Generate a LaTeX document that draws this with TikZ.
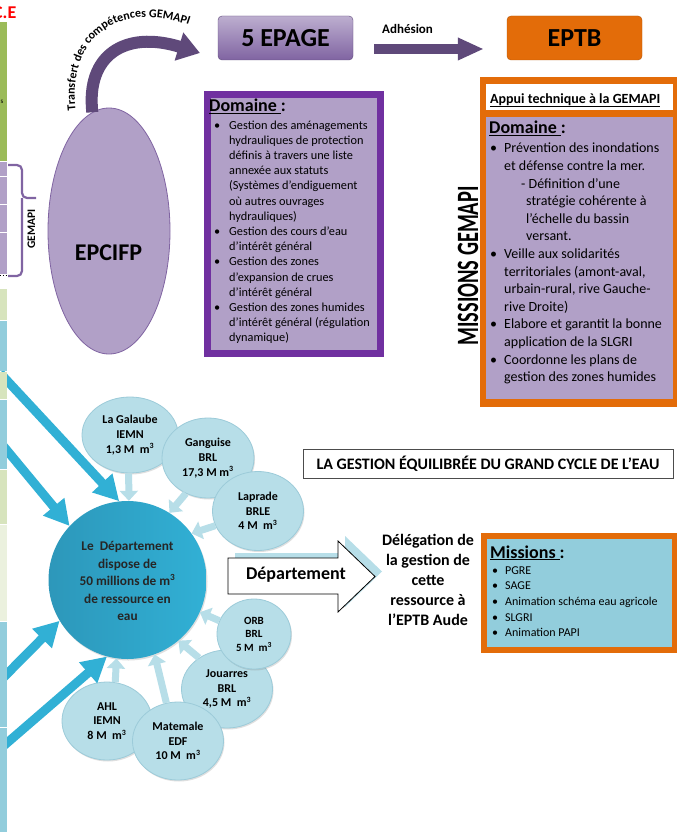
\documentclass[tikz,border=0pt]{standalone}
\usepackage{fontspec}
\setmainfont{Carlito}
\usetikzlibrary{arrows.meta,shapes.geometric,decorations.text,shadows,calc}

\definecolor{lilac}{HTML}{B1A0C7}
\definecolor{violetline}{HTML}{7030A0}
\definecolor{plum}{HTML}{5F497A}
\definecolor{plumedge}{HTML}{8064A2}
\definecolor{orangeB}{HTML}{E36C09}
\definecolor{skyfill}{HTML}{B7DEE8}
\definecolor{skyedge}{HTML}{9CCBD9}
\definecolor{tealmain}{HTML}{31B0D5}
\definecolor{tealdark}{HTML}{2B8FB1}
\definecolor{tabgreen}{HTML}{9BBB59}
\definecolor{tablight}{HTML}{D7E4BD}
\definecolor{tabpale}{HTML}{EBF1DE}
\definecolor{tabblue}{HTML}{92CDDC}

\newcommand{\fsz}[2]{\fontsize{#1}{#2}\selectfont}
\newcommand{\bulA}{\makebox[15pt][l]{\textbullet}}
\newcommand{\indA}{\hspace*{15pt}}
\newcommand{\bulB}{\makebox[14pt][l]{\textbullet}}
\newcommand{\indB}{\hspace*{14pt}}
\newcommand{\bulC}{\makebox[13pt][l]{\textbullet}}

\begin{document}
\begin{tikzpicture}[x=1pt,y=-1pt,
  smallc/.style={ellipse, fill=skyfill, draw=skyedge, line width=0.8pt, inner sep=0pt,
    align=center, font=\bfseries\fsz{12}{14.7},
    drop shadow={opacity=0.25, shadow xshift=1pt, shadow yshift=-1.5pt}},
  bigarrow/.style={tealmain, line width=9pt, -{Triangle[length=25pt,width=26pt]}},
  smallarrow/.style={skyfill, line width=7pt, -{Triangle[length=10pt,width=18pt]}},
  adharrow/.style={plum, line width=10pt, -{Triangle[length=26pt,width=21pt]}},
  band/.style={plum, line width=12pt, -{Triangle[length=22pt,width=28pt]}},
  bracepath/.style={plumedge, line width=2.2pt, rounded corners=5pt},
  topbox/.style={rounded corners=4pt, minimum width=135pt, minimum height=44pt,
    inner sep=0pt, font=\bfseries\fsz{26}{26}},
  plain/.style={inner sep=0pt, anchor=base west}]

\useasboundingbox (0,0) rectangle (677,832);
\fill[white] (0,0) rectangle (677,832);

% ---------- large teal arrows feeding the reservoir ----------
\coordinate (src1) at (0,373);
\coordinate (src2) at (0,442);
\coordinate (src3) at (0,681);
\coordinate (src4) at (0,749);

% ---------- reservoir and sources ----------
\node[circle, minimum size=158pt, inner sep=0pt, left color=tealdark!75!tealmain, right color=tealmain,
  drop shadow={opacity=0.25, shadow xshift=1pt, shadow yshift=-1.5pt}] (dep) at (127.5,580) {};
\node[plain, anchor=base, font=\bfseries\fsz{13.3}{17.5}, text=black!85] (deptxt) at (127.5,550.5)
  {\begin{tabular}[t]{@{}c@{}}Le\ \ Département\\ dispose de\\ 50 millions de m\textsuperscript{3}\\ de ressource en\\ eau\end{tabular}};

\node[smallc, minimum width=96pt, minimum height=76pt] (gal) at (130,435) {La Galaube\\ IEMN\\ 1,3 M\ \ m\textsuperscript{3}};
\node[smallc, minimum width=92pt, minimum height=80pt] (gan) at (208,458) {Ganguise\\ BRL\\ 17,3 M m\textsuperscript{3}};
\node[smallc, minimum width=91pt, minimum height=79pt] (lap) at (258,511) {Laprade\\ BRLE\\ 4 M\ \ m\textsuperscript{3}};
\node[smallc, minimum width=91pt, minimum height=78pt] (jou) at (227,689) {Jouarres\\ BRL\\ 4,5 M\ \ m\textsuperscript{3}};
\node[smallc, minimum width=74pt, minimum height=70pt, font=\bfseries\fsz{11}{13.5}] (orb) at (254,634) {ORB\\ BRL\\ 5 M\ \ m\textsuperscript{3}};
\node[smallc, minimum width=90pt, minimum height=78pt] (ahl) at (107,721) {AHL\\ IEMN\\ 8 M\ \ m\textsuperscript{3}};
\node[smallc, minimum width=91pt, minimum height=78pt] (mat) at (178,741) {Matemale\\ EDF\\ 10 M\ \ m\textsuperscript{3}};

\draw[smallarrow] (gal.268) -- (dep.89);
\draw[smallarrow] (gan.238) -- (dep.58);
\draw[smallarrow] (lap.199) -- (dep.36);
\draw[smallarrow] (orb.159) -- (dep.-24);
\draw[smallarrow] (jou.132) -- (dep.-50);
\draw[smallarrow] (mat.107) -- (dep.-70);
\draw[smallarrow] (ahl.78) -- (dep.-98);

\draw[bigarrow] (src1) -- (dep.96);
\draw[bigarrow] (src2) -- (dep.137);
\draw[bigarrow] (src3) -- (dep.211);
\draw[bigarrow] (src4) -- (dep.255);

% ---------- table strip on the left ----------
\foreach \ya/\yb/\cc in {22.5/160.5/tabgreen, 161.5/176/lilac, 177/203.5/lilac,
    204.5/231.5/lilac, 232.5/274/lilac, 288.5/320/tablight, 321/370.5/tabblue,
    371.5/398.5/tablight, 399.5/469/tabblue, 470/524/tablight, 525/621/tabpale,
    622/727/tabblue, 728/833/tabblue}
  \fill[\cc] (-1,\ya) rectangle (7.3,\yb);
\draw[dotted, line width=0.8pt] (0,275) -- (7,275);
\node[inner sep=0pt, anchor=base east, font=\bfseries\fsz{18}{18}, text=red] (cetag) at (16.5,18.5) {C.E};
\node[inner sep=0pt, anchor=base east, font=\fsz{7}{7}] (stag) at (3.5,103) {s};

% GEMAPI brace
\draw[bracepath] (8,165) -- (22,165) -- (22,198) -- (36,198);
\draw[bracepath] (22,198) -- (22,276) -- (8,276);
\node[rotate=90, inner sep=0pt, font=\bfseries\fsz{11.5}{11.5}] (gemapitag) at (31.5,229) {GEMAPI};

% ---------- EPCIFP and transfer arrow ----------
\node[ellipse, fill=lilac, draw=plumedge, line width=0.8pt, minimum width=122pt,
  minimum height=246pt, inner sep=0pt] (epcifp) at (109,231) {};
\node[inner sep=0pt, font=\bfseries\fsz{24}{24}] (epcifptxt) at (108.5,253) {EPCIFP};

\coordinate (bandtip) at (200,53);
\draw[band] (epcifp.98) .. controls (86,55) and (125,30) .. (bandtip);
\path[decorate, decoration={text along path, text align=center,
  text={|\bfseries\fsz{12}{12}|Transfert des compétences GEMAPI}}]
  (76,114) .. controls (66,40) and (115,-2) .. (192,26);

% ---------- top boxes ----------
\node[topbox, draw=plum, top color=lilac!85!white, bottom color=plumedge] (epage) at (285.5,38) {5 EPAGE};
\node[topbox, draw=orangeB!80!black, fill=orangeB] (eptb) at (574.5,38) {EPTB};
\draw[adharrow] ($(epage.east)+(21,11)$) -- ($(eptb.west)+(-23,11)$);
\node[plain, font=\bfseries\fsz{13}{13}] (adhtxt) at (382,33.5) {Adhésion};

% ---------- EPAGE domain panel ----------
\node[draw=violetline, line width=7pt, fill=lilac, minimum width=173pt, minimum height=258pt,
  inner sep=0pt, anchor=north west] (epagepanel) at (203.5,91.5) {};
\node[plain, font=\bfseries\fsz{18}{18}] (domA) at (209,112) {\underline{Domaine }:};
\node[plain, font=\fsz{12.3}{15.2}] (listA) at (214,129) {\begin{tabular}[t]{@{}l@{}}
\bulA Gestion des aménagements\\
\indA hydrauliques de protection\\
\indA définis à travers une liste\\
\indA annexée aux statuts\\
\indA (Systèmes d’endiguement\\
\indA où autres ouvrages\\
\indA hydrauliques)\\
\bulA Gestion des cours d’eau\\
\indA d’intérêt général\\
\bulA Gestion des zones\\
\indA d’expansion de crues\\
\indA d’intérêt général\\
\bulA Gestion des zones humides\\
\indA d’intérêt général (régulation\\
\indA dynamique)
\end{tabular}};

% ---------- MISSIONS GEMAPI ----------
\node[rotate=90, inner sep=0pt] (missionsgemapi) at (468,266)
  {\scalebox{0.66}[1]{\bfseries\fsz{31}{31}MISSIONS GEMAPI}};

% ---------- EPTB panel ----------
\node[fill=orangeB, minimum width=197pt, minimum height=330pt, inner sep=0pt, anchor=north west] (eptbframe) at (480,77) {};
\node[fill=white, minimum width=187pt, minimum height=26pt, inner sep=0pt, anchor=north west] (appuiband) at (486,84) {};
\node[fill=lilac, minimum width=187pt, minimum height=282pt, inner sep=0pt, anchor=north west] (eptbpanel) at (486,117) {};
\node[plain, font=\bfseries\fsz{14}{14}] (appuitxt) at (490,103) {\underline{Appui technique à la GEMAPI}};
\node[plain, font=\bfseries\fsz{18}{18}] (domB) at (489,134) {\underline{Domaine }:};
\node[plain, font=\fsz{14}{17.6}] (listB) at (490,153) {\begin{tabular}[t]{@{}l@{}}
\bulB Prévention des inondations\\
\indB et défense contre la mer.\\
\hspace*{31pt}- Définition d’une\\
\hspace*{36pt}stratégie cohérente à\\
\hspace*{36pt}l’échelle du bassin\\
\hspace*{36pt}versant.\\
\bulB Veille aux solidarités\\
\indB territoriales (amont-aval,\\
\indB urbain-rural, rive Gauche-\\
\indB rive Droite)\\
\bulB Elabore et garantit la bonne\\
\indB application de la SLGRI\\
\bulB Coordonne les plans de\\
\indB gestion des zones humides
\end{tabular}};

% ---------- water cycle heading ----------
\node[draw=black!70, line width=0.8pt, minimum width=370pt, minimum height=29pt, inner sep=0pt,
  font=\bfseries\fsz{16}{16}] (cycle) at (488,463.5) {LA GESTION ÉQUILIBRÉE DU GRAND CYCLE DE L’EAU};

% ---------- delegation arrow ----------
\fill[skyfill, shift={(7,-5)}] (228,558) -- (338,558) -- (338,541) -- (375,576.5) -- (338,612) -- (338,594) -- (228,594) -- cycle;
\draw[fill=white, line width=0.8pt] (228,558) -- (338,558) -- (338,541) -- (375,576.5) -- (338,612) -- (338,594) -- (228,594) -- cycle;
\node[inner sep=0pt, anchor=base, font=\bfseries\fsz{18}{18}] (deptarrow) at (296,579) {Département};

\node[inner sep=0pt, anchor=base, font=\bfseries\fsz{16}{20}] (deleg) at (428,545)
  {\begin{tabular}[t]{@{}c@{}}Délégation de\\ la gestion de\\ cette\\ ressource à\\ l’EPTB Aude\end{tabular}};

% ---------- missions panel ----------
\node[fill=orangeB, minimum width=196pt, minimum height=120pt, inner sep=0pt, anchor=north west] (missionframe) at (481,533) {};
\node[fill=tabblue, minimum width=185pt, minimum height=108pt, inner sep=0pt, anchor=north west] (missionpanel) at (487,539) {};
\node[plain, font=\bfseries\fsz{18}{18}] (missionhead) at (490,558) {\underline{Missions }:};
\node[plain, font=\fsz{12}{15.7}] (listC) at (492,574) {\begin{tabular}[t]{@{}l@{}}
\bulC PGRE\\
\bulC SAGE\\
\bulC Animation schéma eau agricole\\
\bulC SLGRI\\
\bulC Animation PAPI
\end{tabular}};

\end{tikzpicture}
\end{document}
